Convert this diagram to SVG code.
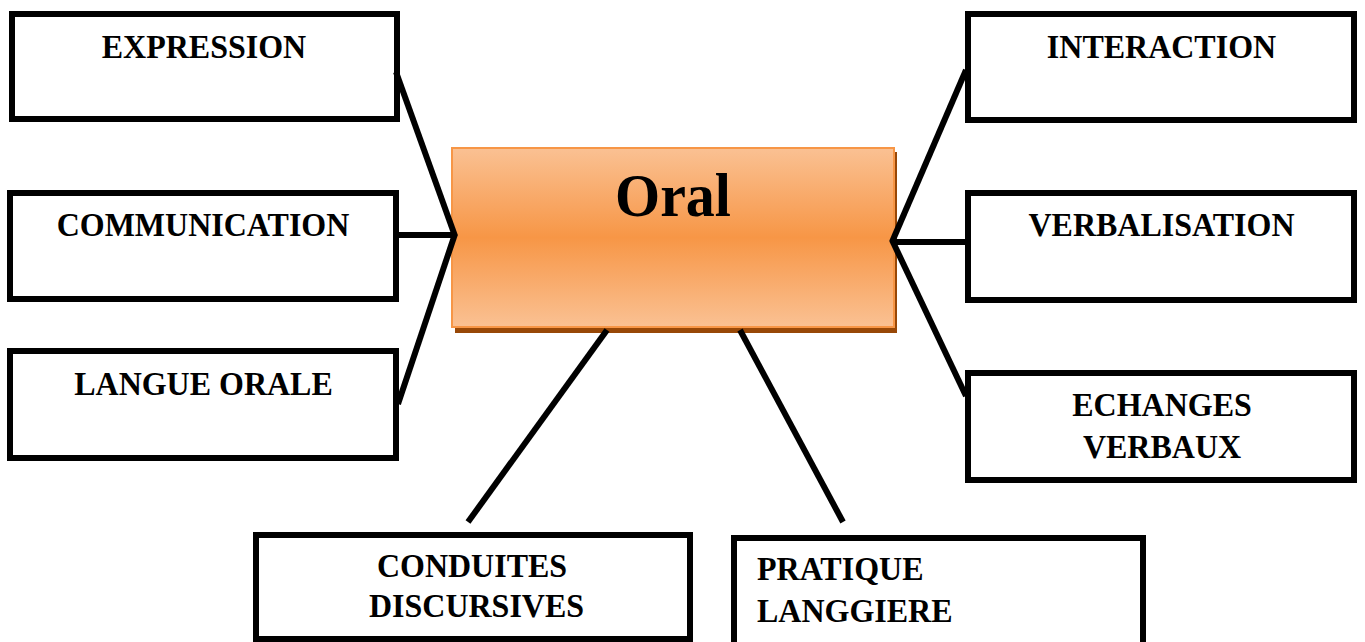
<svg xmlns="http://www.w3.org/2000/svg" width="1365" height="642" viewBox="0 0 1365 642">
<style>
.box{fill:#ffffff;stroke:#000000;stroke-width:6}
.lbl{font-family:"Liberation Serif","Times New Roman",serif;font-weight:bold;font-size:32px;fill:#000000}
.mid{text-anchor:middle}
.con{stroke:#000000;stroke-width:6;fill:none}
</style>
<defs>
<linearGradient id="og" x1="0" y1="0" x2="0" y2="1">
<stop offset="0" stop-color="#FAC193"/>
<stop offset="0.5" stop-color="#F79646"/>
<stop offset="1" stop-color="#FAC193"/>
</linearGradient>
</defs>
<rect width="1365" height="642" fill="#ffffff"/>
<g id="node-oral">
<rect x="455" y="152" width="442" height="181" fill="#984807"/>
<rect x="452" y="148" width="442" height="179" fill="url(#og)" stroke="#F79646" stroke-width="2"/>
<text class="lbl mid" transform="translate(673,216) scale(1,1.07)" style="font-size:58px">Oral</text>
</g>
<g id="node-expression">
<rect class="box" x="12" y="14" width="385" height="105"/>
<text class="lbl mid" transform="translate(204,58) scale(1,1.05)">EXPRESSION</text>
</g>
<g id="node-communication">
<rect class="box" x="10" y="193" width="386" height="106"/>
<text class="lbl mid" transform="translate(203,236) scale(1,1.05)">COMMUNICATION</text>
</g>
<g id="node-langue-orale">
<rect class="box" x="10" y="351" width="386" height="107"/>
<text class="lbl mid" transform="translate(203.5,395) scale(1,1.05)">LANGUE ORALE</text>
</g>
<g id="node-interaction">
<rect class="box" x="968" y="14" width="386" height="106"/>
<text class="lbl mid" transform="translate(1161.5,58) scale(1,1.05)">INTERACTION</text>
</g>
<g id="node-verbalisation">
<rect class="box" x="968" y="193" width="386" height="107"/>
<text class="lbl mid" transform="translate(1161.5,236) scale(1,1.05)">VERBALISATION</text>
</g>
<g id="node-echanges">
<rect class="box" x="968" y="373" width="386" height="107"/>
<text class="lbl mid" transform="translate(1162,416) scale(1,1.05)">ECHANGES</text>
<text class="lbl mid" transform="translate(1162,458) scale(1,1.05)">VERBAUX</text>
</g>
<g id="node-conduites">
<rect class="box" x="256" y="535" width="434" height="104"/>
<text class="lbl mid" transform="translate(472,577) scale(1,1.05)">CONDUITES</text>
<text class="lbl mid" transform="translate(476.5,617) scale(1,1.05)">DISCURSIVES</text>
</g>
<g id="node-pratique">
<rect class="box" x="734" y="538" width="409" height="110"/>
<text class="lbl" transform="translate(757,580) scale(1,1.05)">PRATIQUE</text>
<text class="lbl" transform="translate(757,622) scale(1,1.05)">LANGGIERE</text>
</g>
<g id="connectors">
<line class="con" x1="396" y1="72" x2="455" y2="236"/>
<line class="con" x1="399" y1="235" x2="455" y2="235"/>
<line class="con" x1="455" y1="234" x2="398" y2="404"/>
<line class="con" x1="966" y1="70" x2="892" y2="242"/>
<line class="con" x1="892" y1="242" x2="966" y2="242"/>
<line class="con" x1="892" y1="240" x2="966" y2="396"/>
<line class="con" x1="607" y1="330" x2="468" y2="522"/>
<line class="con" x1="740" y1="330" x2="843" y2="522"/>
</g>
</svg>
